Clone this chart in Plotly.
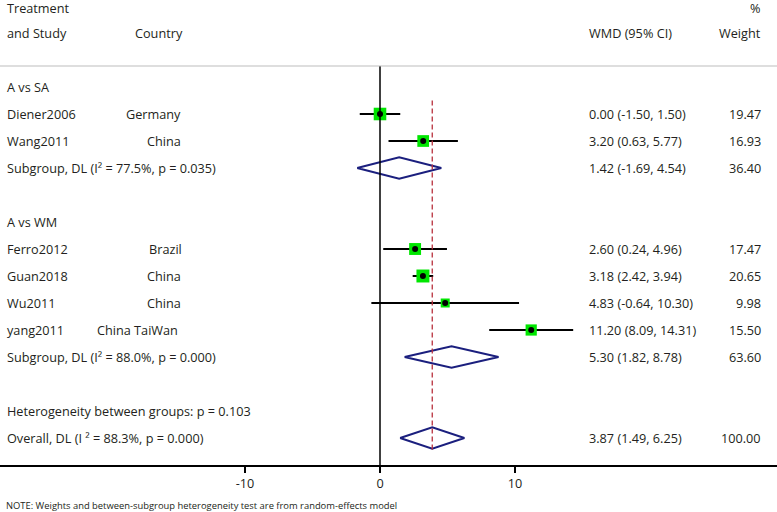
import plotly.graph_objects as go
import numpy as np

# ---------------- data ----------------
studies = ["Diener2006", "Wang2011", "Ferro2012", "Guan2018", "Wu2011", "yang2011"]
countries = ["Germany", "China", "Brazil", "China", "China", "China TaiWan"]
est = [0.00, 3.20, 2.60, 3.18, 4.83, 11.20]
ci_lo = [-1.50, 0.63, 0.24, 2.42, -0.64, 8.09]
ci_hi = [1.50, 5.77, 4.96, 3.94, 10.30, 14.31]
weights = [19.47, 16.93, 17.47, 20.65, 9.98, 15.50]

group_labels = ["A vs SA", "A vs WM"]
pooled_labels = ["Subgroup, DL (I² = 77.5%, p = 0.035)",
                 "Subgroup, DL (I² = 88.0%, p = 0.000)",
                 "Overall, DL (I ² = 88.3%, p = 0.000)"]
pooled_est = [1.42, 5.30, 3.87]
pooled_lo = [-1.69, 1.82, 1.49]
pooled_hi = [4.54, 8.78, 6.25]
pooled_w = [36.40, 63.60, 100.00]
het_label = "Heterogeneity between groups: p = 0.103"
note = "NOTE: Weights and between-subgroup heterogeneity test are from random-effects model"
x_ticks = [-10, 0, 10]

# ---------------- layout (rows / positions) ----------------
study_rows = [4, 5, 9, 10, 11, 12]
group_rows = [3, 8]
pooled_rows = [6, 13, 16]
het_row = 15
W, H = 777, 512
MB = 47
px_per_unit = 13.5
zero_px = 380
x0 = -zero_px / px_per_unit
x1 = x0 + W / px_per_unit
row0_px, row_h = 6, 27
plot_h = H - MB
y_top = -row0_px / row_h
y_bot = (plot_h - row0_px) / row_h
sep_row = (66 - row0_px) / row_h
country_px = [124, 145, 147, 145, 145, 95]

FONT = "Open Sans"
FS = 12.7
TXT = "#231f20"
fig = go.Figure()

def fmt_ci(e, l, h):
    return f"{e:.2f} ({l:.2f}, {h:.2f})"

# overall dashed line
fig.add_shape(type="line", x0=pooled_est[2], x1=pooled_est[2], y0=3.5, y1=16.5,
              xref="x", yref="y", line=dict(color="#b8303c", width=1.3, dash="5px,3px"))
# zero line
fig.add_shape(type="line", x0=0, x1=0, y0=sep_row, y1=y_bot,
              xref="x", yref="y", line=dict(color="black", width=1.5))
# separator
fig.add_shape(type="line", x0=0, x1=1, y0=sep_row, y1=sep_row,
              xref="paper", yref="y", line=dict(color="#bdbdbd", width=1.2))

# study CIs
e = np.array(est); lo = np.array(ci_lo); hi = np.array(ci_hi)
fig.add_trace(go.Scatter(
    x=est, y=study_rows, mode="markers",
    marker=dict(symbol="square", size=2.85 * np.sqrt(weights), color="#00e600", opacity=1,
                line=dict(width=0)),
    error_x=dict(type="data", symmetric=False, array=hi - e, arrayminus=e - lo,
                 color="black", thickness=2, width=0),
    hoverinfo="skip", showlegend=False))
fig.add_trace(go.Scatter(x=est, y=study_rows, mode="markers",
                         marker=dict(symbol="circle", size=6, color="black"),
                         hoverinfo="skip", showlegend=False))

# diamonds
hh = 0.4
for pe, pl, ph, r in zip(pooled_est, pooled_lo, pooled_hi, pooled_rows):
    fig.add_trace(go.Scatter(x=[pl, pe, ph, pe, pl], y=[r, r - hh, r, r + hh, r],
                             mode="lines", line=dict(color="#1b1f7e", width=2),
                             hoverinfo="skip", showlegend=False))

ann = []
def text(xp, r, s, anchor="left", size=FS, yshift=0):
    ann.append(dict(x=xp / W, y=r, xref="paper", yref="y", text=s, showarrow=False,
                    xanchor=anchor, yanchor="middle", yshift=yshift,
                    font=dict(family=FONT, size=size, color=TXT)))

text(5, 0, "Treatment", yshift=-2)
text(5, 1, "and Study")
text(133, 1, "Country")
text(587, 1, "WMD (95% CI)")
text(763, 0, "%", "right", yshift=-2)
text(763, 1, "Weight", "right")
for g, r in zip(group_labels, group_rows):
    text(5, r, g)
for s, c, cx, r, a, b, c2, w in zip(studies, countries, country_px, study_rows, est, ci_lo, ci_hi, weights):
    text(5, r, s)
    text(cx, r, c)
    text(587, r, fmt_ci(a, b, c2))
    text(763, r, f"{w:.2f}", "right")
for lab, r, a, b, c2, w in zip(pooled_labels, pooled_rows, pooled_est, pooled_lo, pooled_hi, pooled_w):
    text(5, r, lab)
    text(587, r, fmt_ci(a, b, c2))
    text(763, r, f"{w:.2f}", "right")
text(5, het_row, het_label)
ann.append(dict(x=4 / W, y=0, xref="paper", yref="paper", text=note,
                showarrow=False, xanchor="left", yanchor="middle", yshift=-(505 - plot_h),
                font=dict(family=FONT, size=9.4, color=TXT)))

fig.update_layout(
    width=W, height=H, margin=dict(l=0, r=0, t=0, b=MB),
    paper_bgcolor="white", plot_bgcolor="white",
    annotations=ann,
    xaxis=dict(range=[x0, x1], tickvals=x_ticks, ticktext=[str(t) for t in x_ticks],
               showgrid=False, zeroline=False, showline=True, linecolor="black", linewidth=1.5,
               ticks="outside", ticklen=6, tickwidth=1.5, tickcolor="black",
               tickfont=dict(family=FONT, size=FS, color=TXT)),
    yaxis=dict(range=[y_bot, y_top], visible=False, showgrid=False, zeroline=False),
)
fig.write_html("out.html", config={"displayModeBar": False},
               post_script="document.body.style.margin='0';")
